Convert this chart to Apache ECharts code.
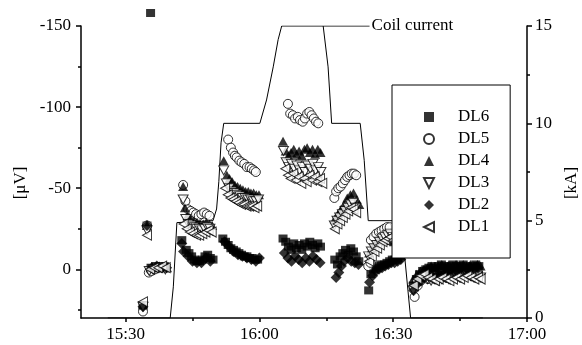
<!DOCTYPE html>
<html><head><meta charset="utf-8">
<script src="https://cdn.jsdelivr.net/npm/echarts@6/dist/echarts.min.js"></script>
<style>html,body{margin:0;padding:0;background:#fff}#c{width:582px;height:345px}</style>
</head><body><div id="c"></div>
<script>
// time = minutes after 15:00, value = µV
const DL6 = [[33.9,22],[34.8,-27],[35.6,-158],[35.7,-1],[36.7,-2],[37.7,-1],[38.7,-2],
 [42.6,-18],[43.6,-12],[44.2,-10],[44.8,-8],[45.4,-6],[46.0,-5],[46.6,-5],[47.2,-6],[47.8,-8],[48.4,-9],[49.0,-7],[49.6,-6],
 [51.8,-19],[52.4,-17],[53.0,-15],[53.6,-13],[54.2,-12],[54.8,-11],[55.4,-10],[56.0,-9],[56.6,-8],[57.2,-8],[57.8,-7],[58.4,-7],[59.0,-6],[59.6,-6],
 [65.3,-19],[65.9,-17],[66.5,-14],[67.1,-12],[67.7,-16],[68.3,-13],[68.9,-15],[69.5,-12],[70.1,-16],[70.7,-14],[71.3,-17],[71.9,-15],[72.5,-13],[73.1,-16],[73.7,-14],
 [76.9,-6],[77.5,-3],[78.1,-8],[78.7,-10],[79.3,-12],[79.9,-9],[80.5,-13],[81.1,-11],[81.7,-8],[82.3,-5],
 [84.5,13],[85.0,3],[85.6,0],[86.2,-1],[86.8,-2],[87.4,-3],[88.0,-3],[88.6,-4],[89.2,-5],[89.8,-6],[90.4,-6],[91.0,-7],[91.6,-8],
 [94.5,10],[95.2,6],[95.9,3],[96.6,1],[97.3,0],[98.0,-1],[98.7,-2],[99.4,-1],[100.1,-2],[100.8,-3],[101.5,-2],[102.2,-1],[102.9,-2],[103.6,-3],[104.3,-2],[105.0,-2],[105.7,-3],[106.4,-2],[107.1,-1],[107.8,-2],[108.5,-3],[109.2,-2]];
const DL5 = [[33.9,26],[34.8,-27],[35.2,2],[35.8,1],[36.6,0],[37.4,-1],
 [42.9,-52],[43.4,-42],[44.0,-37],[44.6,-36],[45.2,-35],[45.8,-34],[46.4,-33],[47.0,-34],[47.6,-35],[48.2,-34],[48.8,-33],
 [53.0,-80],[53.6,-75],[54.1,-72],[54.5,-70],[54.9,-69],[55.5,-67],[56.0,-66],[56.6,-65],[57.2,-63],[57.8,-63],[58.3,-62],[58.8,-61],[59.2,-60],
 [66.4,-102],[66.9,-96],[67.5,-95],[68.0,-93],[68.6,-94],[69.1,-92],[69.7,-91],[70.2,-93],[70.7,-96],[71.2,-97],[71.7,-95],[72.2,-93],[72.7,-91],[73.2,-90],
 [76.8,-44],[77.2,-48],[77.7,-50],[78.2,-51],[78.7,-53],[79.2,-55],[79.7,-57],[80.2,-58],[80.7,-59],[81.2,-59],[81.7,-58],
 [84.4,-2],[84.9,-4],[85.0,-18],[85.6,-20],[86.2,-22],[86.8,-23],[87.4,-24],[88.0,-25],[88.6,-26],[89.2,-26],
 [94.8,17],[95.5,10],[96.2,7],[97.0,5],[97.8,6],[98.6,5],[99.4,6],[100.2,5],[101.0,4],[101.8,5],[102.6,4],[103.4,3],[104.2,4],[105.0,3],[105.8,2],[106.6,3],[107.4,2],[108.2,3],[109.0,2]];
const DL4 = [[33.9,22],[34.8,-27],[35.6,-1],[36.6,-1],[37.6,-2],[38.6,-1],[39.3,-1],
 [42.9,-51],[43.3,-38],[43.9,-33],[44.6,-31],[45.3,-30],[46.0,-29],[46.7,-28],[47.4,-28],[48.1,-29],[48.8,-28],[49.4,-27],
 [52.0,-67],[52.7,-58],[53.3,-56],[53.9,-54],[54.5,-52],[55.1,-51],[55.7,-50],[56.3,-49],[56.9,-48],[57.5,-48],[58.1,-47],[58.7,-47],[59.3,-46],[59.9,-46],
 [65.3,-79],[65.9,-73],[66.5,-70],[67.1,-72],[67.7,-74],[68.3,-71],[68.9,-73],[69.5,-70],[70.1,-74],[70.7,-75],[71.3,-72],[71.9,-74],[72.5,-71],[73.1,-74],[73.7,-72],
 [76.9,-31],[77.6,-34],[78.3,-37],[79.0,-40],[79.7,-44],[80.4,-46],[81.1,-47],[81.8,-43],[82.4,-40],
 [84.6,-10],[85.3,-13],[86.0,-16],[86.7,-17],[87.4,-19],[88.1,-18],[88.8,-20],[89.5,-18],[90.2,-17],
 [94.5,6],[95.3,3],[96.1,1],[96.9,0],[97.7,-1],[98.5,-2],[99.3,-1],[100.1,-2],[100.9,-3],[101.7,-2],[102.5,-3],[103.3,-2],[104.1,-3],[104.9,-2],[105.7,-3],[106.5,-2],[107.3,-3],[108.1,-2],[108.9,-3],[109.6,-2]];
const DL3 = [[33.9,23],[34.8,-24],[35.3,1],[36.2,0],[37.1,-1],[38.0,-1],[38.9,0],
 [42.9,-43],[43.5,-31],[44.1,-28],[44.7,-27],[45.3,-26],[45.9,-25],[46.5,-25],[47.1,-24],[47.7,-25],[48.3,-26],[48.9,-25],
 [52.0,-61],[52.6,-53],[53.2,-50],[53.8,-48],[54.4,-47],[55.0,-46],[55.6,-45],[56.2,-44],[56.8,-44],[57.4,-43],[58.0,-43],[58.6,-42],[59.2,-42],[59.8,-43],
 [65.4,-73],[66.0,-66],[66.6,-63],[67.2,-65],[67.8,-62],[68.4,-64],[69.0,-61],[69.6,-63],[70.2,-60],[70.8,-64],[71.4,-62],[72.0,-65],[72.6,-61],[73.2,-63],[73.8,-60],
 [76.8,-27],[77.4,-30],[78.0,-32],[78.6,-34],[79.2,-36],[79.8,-38],[80.4,-40],[81.0,-41],[81.6,-38],
 [84.5,-8],[85.1,-11],[85.7,-13],[86.3,-15],[86.9,-17],[87.5,-19],[88.1,-20],[88.7,-21],[89.3,-22],[89.9,-20],
 [94.5,13],[95.3,9],[96.1,6],[96.9,5],[97.7,6],[98.5,7],[99.3,6],[100.1,7],[100.9,6],[101.7,5],[102.5,6],[103.3,5],[104.1,4],[104.9,5],[105.7,4],[106.5,3],[107.3,4],[108.1,5],[108.9,4],[109.6,5]];
const DL2 = [[33.9,23],[34.8,-27],[35.9,-1],[37.0,-2],[38.1,-1],[39.2,-1],
 [42.6,-16],[43.0,-11],[44.0,-8],[45.0,-5],[46.0,-4],[47.0,-4],[48.0,-7],[49.0,-5],
 [52.2,-17],[53.2,-14],[54.2,-11],[55.2,-9],[56.2,-8],[57.2,-7],[58.2,-6],[59.2,-5],[60.0,-7],
 [65.6,-10],[66.4,-7],[67.2,-5],[68.0,-8],[68.8,-6],[69.6,-4],[70.4,-7],[71.2,-5],[72.0,-8],[72.8,-6],[73.6,-4],
 [77.2,5],[77.8,2],[78.4,-2],[79.0,-5],[79.8,-7],[80.6,-5],[81.4,-4],[82.2,-3],
 [84.7,8],[85.4,4],[86.1,1],[86.8,0],[87.5,-1],[88.2,-2],[88.9,-3],[89.6,-4],[90.3,-4],[91.0,-5],[91.7,-6],
 [94.6,13],[95.4,9],[96.2,7],[97.0,5],[97.8,4],[98.6,4],[99.4,3],[100.2,3],[101.0,2],[101.8,2],[102.6,1],[103.4,2],[104.2,1],[105.0,0],[105.8,1],[106.6,0],[107.4,-1],[108.2,0],[109.0,-1]];
const DL1 = [[33.9,20],[34.8,-21],[35.5,0],[36.4,-1],[37.3,-1],[38.2,-2],[39.0,-1],
 [43.0,-28],[43.7,-25],[44.4,-23],[45.1,-22],[45.8,-21],[46.5,-21],[47.2,-22],[47.9,-23],[48.6,-24],[49.3,-23],
 [52.3,-50],[52.9,-46],[53.5,-44],[54.1,-43],[54.7,-42],[55.3,-41],[55.9,-40],[56.5,-40],[57.1,-39],[57.7,-39],[58.3,-39],[58.9,-38],[59.5,-39],
 [65.8,-62],[66.4,-58],[67.0,-56],[67.6,-59],[68.2,-55],[68.8,-57],[69.4,-53],[70.0,-56],[70.6,-54],[71.2,-58],[71.8,-55],[72.4,-57],[73.0,-54],[73.6,-56],[74.1,-53],
 [76.9,-25],[77.5,-28],[78.1,-30],[78.7,-32],[79.3,-34],[79.9,-36],[80.5,-38],[81.1,-37],[81.7,-35],
 [84.6,-5],[85.2,-8],[85.8,-11],[86.4,-13],[87.0,-15],[87.6,-17],[88.2,-18],[88.8,-19],[89.4,-20],[90.0,-18],
 [94.6,10],[95.4,6],[96.2,4],[97.0,3],[97.8,5],[98.6,6],[99.4,7],[100.2,6],[101.0,5],[101.8,6],[102.6,7],[103.4,6],[104.2,5],[105.0,6],[105.8,5],[106.6,4],[107.4,5],[108.2,6],[109.0,5],[109.6,6]];
// coil current: minutes after 15:00, kA
const COIL = [[26.0,0],[40.0,0],[40.7,1.6],[41.5,4.9],[41.8,5],[49.6,5],[50.4,5.6],[50.9,7],[51.4,9],[52.0,10],
 [60.1,10],[61.6,11.2],[63.1,12.9],[64.2,14.3],[65.0,15],[74.3,15],[75.4,12.9],[76.2,10],[82.6,10],[83.5,8.1],[84.4,5],
 [92.0,5],[92.6,3.1],[93.9,0],[110.1,0]];
const LEADER = [[74.3,15],[84.7,15]];
const LEADER_TEXT = 'Coil current';
const SERIES_NAMES = ['DL6','DL5','DL4','DL3','DL2','DL1'];
const X_TICKS = [30,60,90,120];
const X_MINOR = [45,75,105];
const UV_TICKS = [-150,-100,-50,0];
const UV_MINOR = [-125,-75,-25,25];

const FONT = 'Liberation Serif';
const DOWN_TRI = 'path://M0,0 L10,0 L5,10 Z';
const LEFT_TRI = 'path://M10,0 L10,10 L0,5 Z';
const chart = echarts.init(document.getElementById('c'));
function fmtTime(v){const h=15+Math.floor(v/60), m=Math.round(v%60); return h+':'+(m<10?'0':'')+m;}
const hollow = {color:'#fff', borderColor:'#000', borderWidth:1};
const filled = {color:'#000', borderColor:'#000', borderWidth:0};
function sc(name, data, symbol, size, style){
  return {name, type:'scatter', data, symbol, symbolSize:size, itemStyle:style,
    clip:false, xAxisIndex:0, yAxisIndex:0, emphasis:{disabled:true}, silent:true, z:3};
}
const axLine = {show:true, onZero:false, lineStyle:{color:'#000', width:1.5}};
const noLine = {show:false, onZero:false};
const tickStyle = {color:'#000', width:1.5};
const lbl = {fontFamily:FONT, fontSize:17, color:'#000'};
const option = {
  animation:false,
  grid:{left:81, right:55, top:26, bottom:27, outerBoundsMode:'none'},
  legend:{data:SERIES_NAMES, orient:'vertical', left:392, top:85, padding:[21,21,20,31],
    itemWidth:10, itemHeight:10, itemGap:0,
    textStyle:{fontFamily:FONT, fontSize:17, color:'#000', lineHeight:22, padding:[0,0,0,19]},
    borderColor:'#000', borderWidth:1, backgroundColor:'#fff', borderRadius:0, selectedMode:false, z:10},
  xAxis:[
    {type:'value', min:20, max:120, position:'bottom', axisLine:axLine,
     axisTick:{customValues:X_TICKS, length:4, lineStyle:tickStyle},
     axisLabel:Object.assign({customValues:X_TICKS, formatter:fmtTime, margin:8}, lbl),
     splitLine:{show:false}},
    {type:'value', min:20, max:120, position:'top', offset:-292, axisLine:noLine,
     axisTick:{customValues:X_MINOR, length:3, inside:true, lineStyle:tickStyle},
     axisLabel:{show:false}, splitLine:{show:false}}
  ],
  yAxis:[
    {type:'value', position:'left', inverse:true, min:-150, max:30, axisLine:axLine,
     name:'[μV]', nameLocation:'middle', nameGap:50,
     nameTextStyle:{fontFamily:FONT, fontSize:17, color:'#000', padding:[0,22,0,0]},
     axisTick:{customValues:UV_TICKS, length:5, lineStyle:tickStyle},
     axisLabel:Object.assign({customValues:UV_TICKS, margin:10}, lbl),
     splitLine:{show:false}},
    {type:'value', position:'right', min:0, max:15, interval:5, axisLine:axLine,
     name:'[kA]', nameLocation:'middle', nameGap:33,
     nameTextStyle:{fontFamily:FONT, fontSize:17, color:'#000', padding:[0,22,0,0]},
     axisTick:{length:5, lineStyle:tickStyle},
     minorTick:{show:true, splitNumber:2, length:3, lineStyle:tickStyle},
     axisLabel:Object.assign({margin:8}, lbl),
     splitLine:{show:false}, minorSplitLine:{show:false}},
    {type:'value', position:'right', offset:-446, inverse:true, min:-150, max:30, axisLine:noLine,
     axisTick:{customValues:UV_MINOR, length:3, inside:true, lineStyle:tickStyle},
     axisLabel:{show:false}, splitLine:{show:false}}
  ],
  series:[
    {name:'coil', type:'line', data:COIL, xAxisIndex:0, yAxisIndex:1, symbol:'none', silent:true,
     lineStyle:{color:'#000', width:1}, z:1},
    {name:'leader', type:'line', data:LEADER, xAxisIndex:0, yAxisIndex:1, symbol:'none', silent:true,
     lineStyle:{color:'#000', width:1}, z:1,
     endLabel:{show:true, formatter:LEADER_TEXT, fontFamily:FONT, fontSize:17, color:'#000', distance:2}},
    sc('DL6', DL6, 'rect', [9,8], filled),
    sc('DL5', DL5, 'circle', [9,9], hollow),
    sc('DL4', DL4, 'triangle', [10,9], filled),
    sc('DL3', DL3, DOWN_TRI, [10,9], hollow),
    sc('DL2', DL2, 'diamond', [11,11], filled),
    sc('DL1', DL1, LEFT_TRI, [9,10], hollow)
  ]
};
chart.setOption(option);
</script></body></html>
